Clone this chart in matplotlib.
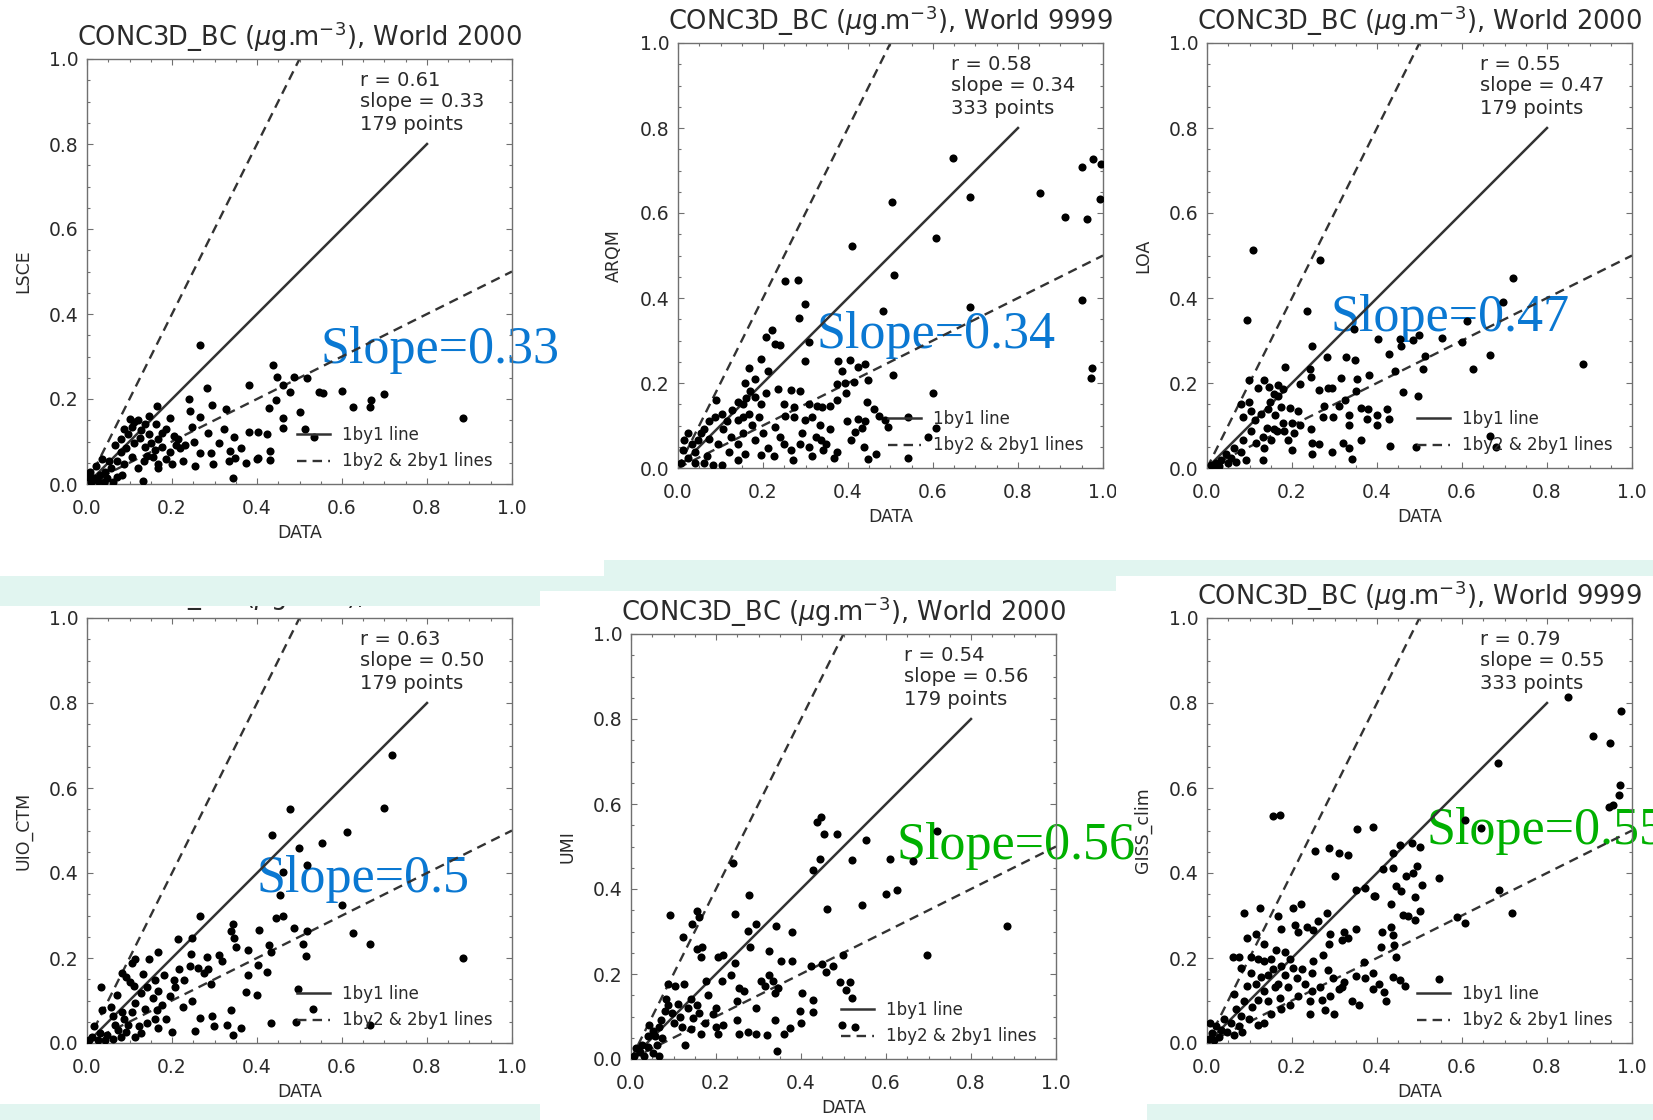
import matplotlib
matplotlib.use('Agg')
import matplotlib.pyplot as plt
from matplotlib.patches import Rectangle
from matplotlib.ticker import MultipleLocator

plt.rcParams['font.family'] = ['DejaVu Sans']
plt.rcParams['mathtext.fontset'] = 'dejavusans'

# ---- data ----
models = ['LSCE', 'ARQM', 'LOA', 'UIO_CTM', 'UMI', 'GISS_clim']
years = ['2000', '9999', '2000', '2000', '2000', '9999']
r_vals = [0.61, 0.58, 0.55, 0.63, 0.54, 0.79]
slopes = [0.33, 0.34, 0.47, 0.50, 0.56, 0.55]
n_points = [179, 333, 179, 179, 179, 333]
overlay_text = ['Slope=0.33', 'Slope=0.34', 'Slope=0.47', 'Slope=0.5', 'Slope=0.56', 'Slope=0.55']
overlay_color = ['#0a78d2', '#0a78d2', '#0a78d2', '#0a78d2', '#00b000', '#00b000']

# reference lines (1by1, 2by1, 1by2)
one_x, one_y = [0.0, 0.8], [0.0, 0.8]
two_x, two_y = [0.0, 0.5], [0.0, 1.0]
half_x, half_y = [0.0, 1.0], [0.0, 0.5]

lsce_x = [0.265, 0.437, 0.448, 0.487, 0.518, 0.46, 0.382, 0.282, 0.478, 0.547, 0.556, 0.601, 0.699,
          0.668, 0.627, 0.665, 0.885, 0.24, 0.294, 0.328, 0.242, 0.267, 0.428, 0.444, 0.502, 0.46,
          0.462, 0.513, 0.534, 0.382, 0.403, 0.423, 0.346, 0.323, 0.284, 0.247, 0.215, 0.251, 0.31,
          0.292, 0.337, 0.363, 0.349, 0.334, 0.296, 0.375, 0.4, 0.43, 0.43, 0.403, 0.343, 0.254,
          0.2, 0.167, 0.131, 0.267, 0.231, 0.195, 0.164, 0.146, 0.101, 0.119, 0.106, 0.186,
          0.079, 0.092, 0.11, 0.124, 0.137, 0.151, 0.159, 0.168, 0.177, 0.155, 0.133, 0.106, 0.088,
          0.07, 0.056, 0.043, 0.03, 0.016, 0.009, 0.025, 0.039, 0.061, 0.07, 0.052, 0.036, 0.021,
          0.007, 0.195, 0.209, 0.128, 0.177, 0.079, 0.119, 0.142, 0.097, 0.065, 0.204, 0.218, 0.186,
          0.168, 0.227, 0.003, 0.047, 0.083, 0.146, 0.162, 0.137, 0.088, 0.11]
lsce_y = [0.326, 0.279, 0.251, 0.251, 0.249, 0.232, 0.233, 0.226, 0.216, 0.216, 0.213, 0.22, 0.212,
          0.197, 0.182, 0.182, 0.155, 0.199, 0.187, 0.177, 0.172, 0.157, 0.18, 0.197, 0.17, 0.156,
          0.132, 0.13, 0.111, 0.122, 0.122, 0.117, 0.111, 0.13, 0.12, 0.134, 0.105, 0.098, 0.096,
          0.073, 0.078, 0.084, 0.061, 0.053, 0.046, 0.049, 0.059, 0.078, 0.056, 0.061, 0.013, 0.042,
          0.048, 0.038, 0.008, 0.073, 0.092, 0.156, 0.184, 0.159, 0.153, 0.151, 0.134, 0.13,
          0.105, 0.084, 0.096, 0.109, 0.088, 0.096, 0.079, 0.105, 0.088, 0.063, 0.054, 0.063, 0.046,
          0.054, 0.038, 0.029, 0.021, 0.013, 0.004, 0.008, 0.004, 0.004, 0.017, 0.054, 0.059, 0.042,
          0.029, 0.075, 0.092, 0.126, 0.121, 0.075, 0.038, 0.067, 0.117, 0.092, 0.113, 0.084, 0.059,
          0.046, 0.054, 0.017, 0.013, 0.021, 0.117, 0.142, 0.142, 0.13, 0.146]

arqm_x = [0.646, 0.686, 0.504, 0.41, 0.607, 0.508, 0.851, 0.91, 0.95, 0.977, 0.995, 0.992, 0.962,
          0.95, 0.974, 0.972, 0.688, 0.482, 0.506, 0.599, 0.251, 0.283, 0.298, 0.284, 0.308, 0.3,
          0.22, 0.206, 0.228, 0.241, 0.195, 0.212, 0.182, 0.166, 0.157, 0.161, 0.153, 0.376, 0.404,
          0.423, 0.44, 0.387, 0.392, 0.413, 0.446, 0.375, 0.395, 0.373, 0.358, 0.339, 0.326, 0.308,
          0.274, 0.287, 0.266, 0.235, 0.207, 0.249, 0.251, 0.274, 0.299, 0.316, 0.444, 0.462, 0.474,
          0.486, 0.493, 0.44, 0.423, 0.398, 0.417, 0.433, 0.542, 0.588, 0.607, 0.542, 0.465, 0.448,
          0.437, 0.408, 0.366, 0.349, 0.336, 0.324, 0.308, 0.291, 0.287, 0.266, 0.249, 0.241, 0.228,
          0.212, 0.195, 0.182, 0.174, 0.191, 0.201, 0.153, 0.157, 0.14, 0.128, 0.115, 0.103, 0.09,
          0.061, 0.074, 0.048, 0.032, 0.015, 0.011, 0.023, 0.04, 0.061, 0.082, 0.103, 0.007, 0.124,
          0.14, 0.166, 0.086, 0.107, 0.074, 0.053, 0.094, 0.12, 0.14, 0.333, 0.358, 0.375, 0.226,
          0.271, 0.316, 0.341, 0.195, 0.18, 0.169, 0.153, 0.14, 0.023, 0.04, 0.069]
arqm_y = [0.73, 0.637, 0.625, 0.523, 0.542, 0.454, 0.646, 0.59, 0.708, 0.727, 0.715, 0.634, 0.586,
          0.395, 0.236, 0.211, 0.38, 0.37, 0.22, 0.177, 0.441, 0.443, 0.386, 0.353, 0.296, 0.251,
          0.324, 0.308, 0.292, 0.29, 0.256, 0.229, 0.209, 0.236, 0.2, 0.164, 0.15, 0.251, 0.254,
          0.238, 0.245, 0.229, 0.2, 0.202, 0.206, 0.197, 0.177, 0.159, 0.146, 0.143, 0.146, 0.15,
          0.143, 0.182, 0.184, 0.185, 0.177, 0.15, 0.123, 0.119, 0.112, 0.119, 0.155, 0.139, 0.123,
          0.113, 0.096, 0.11, 0.115, 0.11, 0.085, 0.094, 0.119, 0.074, 0.094, 0.023, 0.033, 0.022,
          0.049, 0.065, 0.024, 0.056, 0.065, 0.074, 0.049, 0.083, 0.056, 0.042, 0.056, 0.074, 0.096,
          0.047, 0.031, 0.065, 0.101, 0.119, 0.083, 0.083, 0.033, 0.114, 0.137, 0.11, 0.128, 0.159,
          0.092, 0.069, 0.065, 0.056, 0.065, 0.042, 0.024, 0.011, 0.011, 0.008, 0.008, 0.011, 0.074,
          0.056, 0.128, 0.119, 0.092, 0.11, 0.083, 0.056, 0.038, 0.02, 0.101, 0.092, 0.038, 0.029,
          0.02, 0.029, 0.042, 0.15, 0.168, 0.182, 0.119, 0.155, 0.083, 0.038, 0.029]

loa_x = [0.109, 0.094, 0.265, 0.236, 0.248, 0.72, 0.697, 0.612, 0.884, 0.665, 0.625, 0.599, 0.553,
         0.498, 0.485, 0.454, 0.457, 0.402, 0.428, 0.346, 0.514, 0.509, 0.496, 0.46, 0.442, 0.38,
         0.353, 0.35, 0.316, 0.326, 0.348, 0.282, 0.284, 0.295, 0.264, 0.243, 0.244, 0.219, 0.183,
         0.179, 0.166, 0.146, 0.133, 0.119, 0.099, 0.099, 0.084, 0.103, 0.127, 0.149, 0.158, 0.144,
         0.16, 0.174, 0.196, 0.215, 0.201, 0.219, 0.205, 0.19, 0.2, 0.244, 0.248, 0.248, 0.264,
         0.276, 0.297, 0.311, 0.324, 0.334, 0.334, 0.362, 0.376, 0.379, 0.401, 0.4, 0.423, 0.428,
         0.362, 0.342, 0.319, 0.334, 0.295, 0.431, 0.491, 0.667, 0.679, 0.272, 0.178, 0.164, 0.142,
         0.131, 0.135, 0.131, 0.115, 0.103, 0.084, 0.08, 0.064, 0.056, 0.045, 0.033, 0.021, 0.009,
         0.017, 0.029, 0.049, 0.068, 0.092, 0.08, 0.166, 0.158, 0.15, 0.182, 0.114]
loa_y = [0.514, 0.349, 0.49, 0.37, 0.286, 0.446, 0.391, 0.347, 0.245, 0.265, 0.232, 0.297, 0.306,
         0.313, 0.301, 0.304, 0.288, 0.304, 0.268, 0.326, 0.263, 0.232, 0.17, 0.179, 0.229, 0.22,
         0.209, 0.182, 0.211, 0.261, 0.254, 0.262, 0.188, 0.189, 0.184, 0.234, 0.214, 0.197, 0.238,
         0.187, 0.17, 0.191, 0.206, 0.189, 0.206, 0.155, 0.121, 0.133, 0.128, 0.155, 0.173, 0.139,
         0.124, 0.143, 0.141, 0.133, 0.106, 0.101, 0.083, 0.065, 0.042, 0.092, 0.06, 0.033, 0.056,
         0.146, 0.121, 0.146, 0.16, 0.124, 0.101, 0.142, 0.115, 0.139, 0.124, 0.101, 0.139, 0.115,
         0.065, 0.022, 0.06, 0.047, 0.038, 0.051, 0.049, 0.076, 0.049, 0.119, 0.106, 0.087, 0.094,
         0.074, 0.047, 0.02, 0.06, 0.087, 0.065, 0.038, 0.047, 0.024, 0.033, 0.02, 0.011, 0.006,
         0.002, 0.004, 0.011, 0.015, 0.02, 0.151, 0.196, 0.092, 0.065, 0.087, 0.112]

uio_x = [0.718, 0.477, 0.698, 0.436, 0.611, 0.553, 0.499, 0.517, 0.462, 0.453, 0.6, 0.445, 0.461,
         0.486, 0.517, 0.626, 0.665, 0.884, 0.508, 0.515, 0.405, 0.429, 0.432, 0.423, 0.402, 0.38,
         0.38, 0.374, 0.399, 0.497, 0.531, 0.492, 0.432, 0.667, 0.343, 0.363, 0.329, 0.338, 0.298,
         0.294, 0.267, 0.247, 0.253, 0.226, 0.199, 0.265, 0.215, 0.247, 0.244, 0.262, 0.275, 0.242,
         0.292, 0.31, 0.317, 0.343, 0.347, 0.351, 0.338, 0.283, 0.285, 0.217, 0.229, 0.208, 0.195,
         0.204, 0.182, 0.166, 0.146, 0.114, 0.106, 0.132, 0.092, 0.083, 0.101, 0.159, 0.168, 0.155,
         0.141, 0.128, 0.114, 0.106, 0.137, 0.164, 0.177, 0.159, 0.168, 0.141, 0.123, 0.128, 0.097,
         0.088, 0.074, 0.061, 0.056, 0.036, 0.034, 0.065, 0.047, 0.03, 0.016, 0.012, 0.025, 0.005,
         0.043, 0.061, 0.079, 0.092, 0.114, 0.07, 0.083, 0.11, 0.186]
uio_y = [0.677, 0.55, 0.552, 0.49, 0.496, 0.471, 0.458, 0.419, 0.402, 0.348, 0.324, 0.294, 0.3,
         0.271, 0.264, 0.26, 0.234, 0.199, 0.234, 0.204, 0.267, 0.231, 0.214, 0.167, 0.183, 0.219,
         0.16, 0.121, 0.114, 0.127, 0.081, 0.049, 0.046, 0.043, 0.018, 0.035, 0.043, 0.077, 0.041,
         0.064, 0.058, 0.098, 0.029, 0.085, 0.027, 0.298, 0.244, 0.246, 0.21, 0.177, 0.164, 0.181,
         0.139, 0.206, 0.193, 0.281, 0.248, 0.227, 0.264, 0.202, 0.174, 0.173, 0.148, 0.131, 0.11,
         0.148, 0.16, 0.214, 0.198, 0.198, 0.189, 0.163, 0.156, 0.164, 0.143, 0.148, 0.123, 0.106,
         0.131, 0.118, 0.093, 0.073, 0.081, 0.077, 0.089, 0.056, 0.035, 0.048, 0.039, 0.023, 0.043,
         0.056, 0.031, 0.064, 0.085, 0.077, 0.131, 0.043, 0.018, 0.023, 0.039, 0.014, 0.008, 0.006,
         0.006, 0.01, 0.014, 0.027, 0.014, 0.114, 0.073, 0.135, 0.056]

umi_x = [0.437, 0.446, 0.453, 0.484, 0.552, 0.444, 0.428, 0.52, 0.609, 0.663, 0.72, 0.625, 0.599,
         0.46, 0.543, 0.884, 0.697, 0.24, 0.245, 0.092, 0.155, 0.159, 0.143, 0.122, 0.278, 0.276,
         0.294, 0.34, 0.379, 0.28, 0.325, 0.352, 0.379, 0.245, 0.204, 0.217, 0.155, 0.168, 0.164,
         0.087, 0.104, 0.125, 0.177, 0.213, 0.235, 0.253, 0.267, 0.25, 0.307, 0.325, 0.334, 0.338,
         0.347, 0.316, 0.403, 0.428, 0.424, 0.45, 0.459, 0.475, 0.498, 0.491, 0.505, 0.516, 0.52,
         0.397, 0.428, 0.401, 0.375, 0.361, 0.338, 0.343, 0.321, 0.294, 0.276, 0.253, 0.249, 0.294,
         0.496, 0.527, 0.2, 0.182, 0.2, 0.217, 0.173, 0.164, 0.142, 0.146, 0.155, 0.142, 0.133,
         0.119, 0.128, 0.115, 0.101, 0.097, 0.11, 0.088, 0.079, 0.07, 0.065, 0.052, 0.043, 0.039,
         0.056, 0.074, 0.061, 0.039, 0.025, 0.021, 0.007, 0.03, 0.052, 0.065, 0.012, 0.083, 0.159,
         0.193, 0.204]
umi_y = [0.557, 0.57, 0.529, 0.529, 0.515, 0.471, 0.444, 0.469, 0.471, 0.465, 0.536, 0.398, 0.388,
         0.353, 0.362, 0.312, 0.245, 0.462, 0.342, 0.338, 0.348, 0.335, 0.318, 0.286, 0.387, 0.302,
         0.318, 0.312, 0.299, 0.264, 0.255, 0.23, 0.23, 0.226, 0.241, 0.245, 0.26, 0.264, 0.239,
         0.176, 0.172, 0.176, 0.184, 0.184, 0.197, 0.168, 0.159, 0.136, 0.183, 0.198, 0.184, 0.155,
         0.168, 0.172, 0.155, 0.138, 0.218, 0.224, 0.204, 0.22, 0.245, 0.182, 0.163, 0.182, 0.144,
         0.113, 0.111, 0.084, 0.073, 0.06, 0.092, 0.018, 0.057, 0.059, 0.063, 0.06, 0.092, 0.119,
         0.081, 0.075, 0.121, 0.151, 0.075, 0.08, 0.084, 0.059, 0.071, 0.096, 0.126, 0.142, 0.121,
         0.075, 0.034, 0.1, 0.084, 0.109, 0.13, 0.126, 0.113, 0.092, 0.075, 0.067, 0.08, 0.054,
         0.054, 0.05, 0.034, 0.029, 0.034, 0.017, 0.008, 0.008, 0.013, 0.006, 0.025, 0.142, 0.109,
         0.105, 0.059]

giss_x = [0.849, 0.975, 0.908, 0.948, 0.684, 0.972, 0.97, 0.955, 0.946, 0.608, 0.645, 0.155, 0.171,
          0.354, 0.39, 0.254, 0.288, 0.31, 0.332, 0.3, 0.437, 0.455, 0.483, 0.501, 0.413, 0.437,
          0.469, 0.495, 0.485, 0.545, 0.35, 0.372, 0.395, 0.445, 0.457, 0.489, 0.505, 0.461, 0.473,
          0.501, 0.489, 0.433, 0.688, 0.718, 0.588, 0.608, 0.545, 0.086, 0.125, 0.167, 0.203, 0.221,
          0.207, 0.213, 0.235, 0.25, 0.262, 0.282, 0.29, 0.323, 0.35, 0.332, 0.318, 0.288, 0.412,
          0.433, 0.437, 0.409, 0.44, 0.444, 0.392, 0.25, 0.274, 0.285, 0.296, 0.323, 0.35, 0.372,
          0.39, 0.416, 0.421, 0.437, 0.453, 0.465, 0.342, 0.358, 0.318, 0.31, 0.298, 0.278, 0.242,
          0.242, 0.27, 0.215, 0.195, 0.175, 0.151, 0.171, 0.191, 0.211, 0.223, 0.195, 0.175, 0.155,
          0.143, 0.151, 0.135, 0.119, 0.103, 0.076, 0.06, 0.079, 0.103, 0.127, 0.115, 0.095, 0.135,
          0.119, 0.143, 0.107, 0.087, 0.068, 0.064, 0.079, 0.099, 0.119, 0.135, 0.076, 0.056, 0.04,
          0.032, 0.048, 0.02, 0.012, 0.004, 0.016, 0.028, 0.008, 0.064, 0.083, 0.167, 0.231, 0.246,
          0.159, 0.183, 0.203, 0.163, 0.183, 0.095, 0.135, 0.115, 0.175, 0.37, 0.39, 0.405, 0.246,
          0.266, 0.29]
giss_y = [0.814, 0.781, 0.723, 0.706, 0.66, 0.606, 0.583, 0.559, 0.555, 0.524, 0.506, 0.534, 0.537,
          0.503, 0.509, 0.451, 0.459, 0.446, 0.442, 0.392, 0.447, 0.467, 0.47, 0.462, 0.409, 0.411,
          0.392, 0.417, 0.399, 0.389, 0.359, 0.364, 0.347, 0.37, 0.357, 0.344, 0.372, 0.301, 0.3,
          0.311, 0.29, 0.328, 0.359, 0.305, 0.296, 0.282, 0.15, 0.307, 0.317, 0.298, 0.317, 0.328,
          0.278, 0.261, 0.273, 0.265, 0.288, 0.307, 0.257, 0.261, 0.269, 0.246, 0.242, 0.233, 0.261,
          0.273, 0.253, 0.227, 0.23, 0.202, 0.346, 0.192, 0.207, 0.171, 0.152, 0.144, 0.158, 0.152,
          0.127, 0.12, 0.098, 0.156, 0.148, 0.135, 0.098, 0.089, 0.131, 0.127, 0.069, 0.077, 0.069,
          0.098, 0.102, 0.11, 0.089, 0.081, 0.069, 0.106, 0.131, 0.152, 0.173, 0.198, 0.181, 0.173,
          0.161, 0.198, 0.194, 0.198, 0.202, 0.202, 0.202, 0.177, 0.165, 0.156, 0.14, 0.135, 0.123,
          0.102, 0.098, 0.085, 0.098, 0.081, 0.115, 0.064, 0.056, 0.043, 0.048, 0.039, 0.048, 0.056,
          0.031, 0.027, 0.039, 0.023, 0.01, 0.008, 0.014, 0.048, 0.018, 0.027, 0.14, 0.14, 0.165,
          0.131, 0.161, 0.177, 0.219, 0.215, 0.248, 0.232, 0.257, 0.269, 0.19, 0.165, 0.14, 0.123,
          0.131, 0.11]

xs = [lsce_x, arqm_x, loa_x, uio_x, umi_x, giss_x]
ys = [lsce_y, arqm_y, loa_y, uio_y, umi_y, giss_y]

# ---- layout (pixels of the 1653x1120 picture) ----
W, H = 1653, 1120
SIDE = 425
panel_pos = [(87, 59), (678, 43), (1207, 43), (87, 618), (631, 634), (1207, 618)]
overlay_pos = [(321, 363), (817, 348), (1330, 331), (257, 892), (897, 859), (1426, 844)]
mint = '#e1f5f0'
bands = [(604, 560, 1653, 576), (0, 576, 1116, 591), (0, 591, 540, 606),
         (0, 1104, 540, 1120), (1147, 1104, 1653, 1120)]

txt = '#2a2a2a'
gray = '#707070'
linec = '#333333'

fig = plt.figure(figsize=(W / 100, H / 100), dpi=100)
fig.patch.set_facecolor('white')

for i in range(6):
    left, top = panel_pos[i]
    ax = fig.add_axes([left / W, 1 - (top + SIDE) / H, SIDE / W, SIDE / H])
    ax.set_xlim(0, 1)
    ax.set_ylim(0, 1)

    ax.scatter(xs[i], ys[i], s=34, c='black', linewidths=0, zorder=3)
    l1, = ax.plot(one_x, one_y, color=linec, lw=1.8, zorder=2)
    l2, = ax.plot(two_x, two_y, color=linec, lw=1.7, ls=(0, (4, 2.6)), zorder=2)
    ax.plot(half_x, half_y, color=linec, lw=1.7, ls=(0, (4, 2.6)), zorder=2)

    ax.xaxis.set_major_locator(MultipleLocator(0.2))
    ax.yaxis.set_major_locator(MultipleLocator(0.2))
    ax.xaxis.set_minor_locator(MultipleLocator(0.05))
    ax.yaxis.set_minor_locator(MultipleLocator(0.05))
    ax.xaxis.set_major_formatter('{x:.1f}')
    ax.yaxis.set_major_formatter('{x:.1f}')
    ax.tick_params(which='both', direction='in', top=True, right=True, color=gray, width=0.8)
    ax.tick_params(which='major', length=4.5, labelsize=13.5, labelcolor=txt)
    ax.tick_params(which='minor', length=2.5)
    ax.tick_params(axis='x', which='major', pad=11)
    ax.tick_params(axis='y', which='major', pad=6)
    for sp in ax.spines.values():
        sp.set_color(gray)
        sp.set_linewidth(1.0)

    ax.set_xlabel('DATA', fontsize=12.5, color=txt)
    ax.set_ylabel(models[i], fontsize=12.5, color=txt)
    ax.xaxis.label.set_va('center')
    ax.yaxis.label.set_va('center')
    ax.xaxis.set_label_coords(0.5, -0.115)
    ax.yaxis.set_label_coords(-0.15, 0.5)

    ax.text(0.5, 1.03, 'CONC3D_BC ($\\mu$g.m$^{-3}$), World ' + years[i],
            transform=ax.transAxes, ha='center', va='baseline', fontsize=18.5, color=txt)

    ax.text(0.642, 0.95, 'r = %.2f' % r_vals[i], transform=ax.transAxes,
            va='center', fontsize=14, color=txt)
    ax.text(0.642, 0.899, 'slope = %.2f' % slopes[i], transform=ax.transAxes,
            va='center', fontsize=14, color=txt)
    ax.text(0.642, 0.845, '%d points' % n_points[i], transform=ax.transAxes,
            va='center', fontsize=14, color=txt)

    ax.legend([l1, l2], ['1by1 line', '1by2 & 2by1 lines'], loc='lower left',
              bbox_to_anchor=(0.494, 0.032), frameon=False, fontsize=12,
              handlelength=2.0, handletextpad=0.7, labelspacing=0.5,
              borderpad=0, borderaxespad=0, labelcolor=txt)

    ox, oy = overlay_pos[i]
    ax.text(ox / W, 1 - oy / H, overlay_text[i], transform=fig.transFigure,
            ha='left', va='baseline', fontsize=37.5, family='Liberation Serif',
            color=overlay_color[i], zorder=1.5, clip_on=False)

# slide background strips
for x0, y0, x1, y1 in bands:
    fig.patches.append(Rectangle((x0 / W, 1 - y1 / H), (x1 - x0) / W, (y1 - y0) / H,
                                 transform=fig.transFigure, facecolor=mint,
                                 edgecolor='none', zorder=10))
# cropped edge of the top-middle picture
fig.patches.append(Rectangle((1116 / W, 1 - 500 / H), 30 / W, 24 / H,
                             transform=fig.transFigure, facecolor='white',
                             edgecolor='none', zorder=10))

fig.savefig('out.png', dpi=100)
